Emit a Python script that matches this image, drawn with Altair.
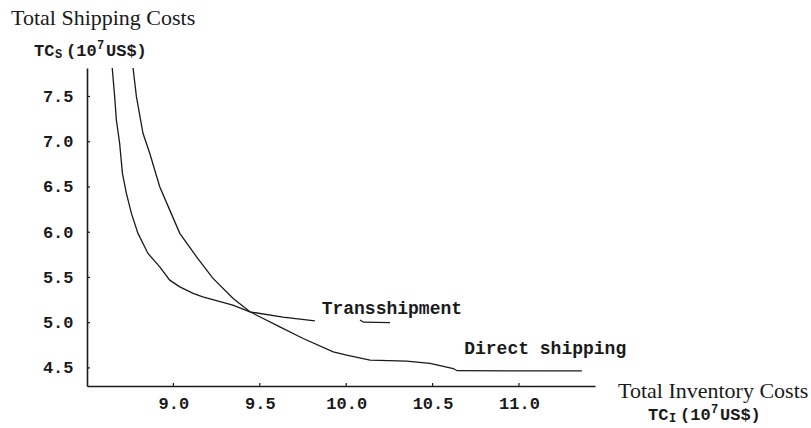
import altair as alt
import pandas as pd

# ---- data ----
trans_x = [8.645, 8.660, 8.670, 8.689, 8.705, 8.728, 8.757, 8.795, 8.853, 8.921,
           8.979, 9.037, 9.114, 9.170, 9.344, 9.443, 9.634, 9.819]
trans_y = [7.84, 7.498, 7.240, 6.982, 6.650, 6.429, 6.208, 5.987, 5.765, 5.617,
           5.470, 5.396, 5.323, 5.285, 5.195, 5.120, 5.061, 5.020]
trans_tail_x = [10.080, 10.100, 10.254]
trans_tail_y = [5.030, 5.005, 5.000]

direct_x = [8.765, 8.786, 8.824, 8.863, 8.921, 8.979, 9.037, 9.134, 9.228, 9.346,
            9.443, 9.616, 9.751, 9.925, 10.003, 10.138, 10.350, 10.485, 10.620,
            10.642, 11.364]
direct_y = [7.84, 7.498, 7.093, 6.872, 6.502, 6.244, 5.987, 5.728, 5.492, 5.268,
            5.120, 4.954, 4.825, 4.677, 4.640, 4.585, 4.574, 4.549, 4.493,
            4.469, 4.467]

x_ticks = [9.0, 9.5, 10.0, 10.5, 11.0]
y_ticks = [4.5, 5.0, 5.5, 6.0, 6.5, 7.0, 7.5]

rows = []
for xv, yv in zip(trans_x, trans_y):
    rows.append({"x": xv, "y": yv, "part": "t1"})
for xv, yv in zip(trans_tail_x, trans_tail_y):
    rows.append({"x": xv, "y": yv, "part": "t2"})
for xv, yv in zip(direct_x, direct_y):
    rows.append({"x": xv, "y": yv, "part": "d"})
lines_df = pd.DataFrame(rows)

W, H = 508, 318
INK = "#1a1a1a"
MONO = "Liberation Mono"
SERIF = "Liberation Serif"

xs = alt.Scale(domain=[8.5, 11.44], nice=False, zero=False)
ys = alt.Scale(domain=[4.30, 7.815], nice=False, zero=False)

xaxis = alt.Axis(values=x_ticks, format=".1f", tickSize=0, grid=False, title=None,
                 labelFont=MONO, labelFontSize=17, labelFontWeight="bold",
                 labelColor=INK, domainColor=INK, domainWidth=1.6, labelPadding=9)
yaxis = alt.Axis(values=y_ticks, format=".1f", tickSize=0, grid=False, title=None,
                 labelFont=MONO, labelFontSize=17, labelFontWeight="bold",
                 labelColor=INK, domainColor=INK, domainWidth=1.6, labelPadding=14)

X = alt.X("x:Q", scale=xs, axis=xaxis)
Y = alt.Y("y:Q", scale=ys, axis=yaxis)

lines = alt.Chart(lines_df).mark_line(color=INK, strokeWidth=1.3, clip=True).encode(
    x=X, y=Y, detail="part:N", order="x:Q")

ytick = alt.Chart(pd.DataFrame({"y": y_ticks})).mark_rule(color=INK, strokeWidth=1.2).encode(
    y=Y, x=alt.value(0), x2=alt.value(3))
xtick = alt.Chart(pd.DataFrame({"x": x_ticks})).mark_rule(color=INK, strokeWidth=1.2).encode(
    x=X, y=alt.value(H), y2=alt.value(H - 3))

labels_df = pd.DataFrame({"x": [9.858, 10.683], "y": [5.094, 4.652],
                          "t": ["Transshipment", "Direct shipping"]})
labels = alt.Chart(labels_df).mark_text(align="left", baseline="alphabetic", font=MONO,
                                        fontSize=18, fontWeight="bold", color=INK).encode(
    x=X, y=Y, text="t:N")

one = pd.DataFrame({"a": [0]})


def txt(s, px, py, size, font, weight="normal"):
    return alt.Chart(one).mark_text(text=s, align="left", baseline="alphabetic",
                                    font=font, fontSize=size, fontWeight=weight,
                                    color=INK).encode(x=alt.value(px), y=alt.value(py))


def unit_label(sub, px, py):
    # TC_sub(10^7 US$)
    return [
        txt("TC", px, py, 17, MONO, "bold"),
        txt(sub, px + 21, py + 2, 12, MONO, "bold"),
        txt("(10", px + 32, py, 17, MONO, "bold"),
        txt("7", px + 63, py - 7, 12, MONO, "bold"),
        txt("US$)", px + 72, py, 17, MONO, "bold"),
    ]


annots = [txt("Total Shipping Costs", -76, -43, 22, SERIF)]
annots += unit_label("S", -53, -12)
annots += [txt("Total Inventory Costs", 531, 330, 22, SERIF)]
annots += unit_label("I", 561, 352)

chart = alt.layer(lines, ytick, xtick, labels, *annots).properties(
    width=W, height=H,
    autosize=alt.AutoSizeParams(type="none"),
    padding={"left": 87, "top": 68, "right": 216, "bottom": 42},
    background="white",
).configure_view(stroke=None)

chart.save("out.html", embed_options={"renderer": "svg", "actions": False})
